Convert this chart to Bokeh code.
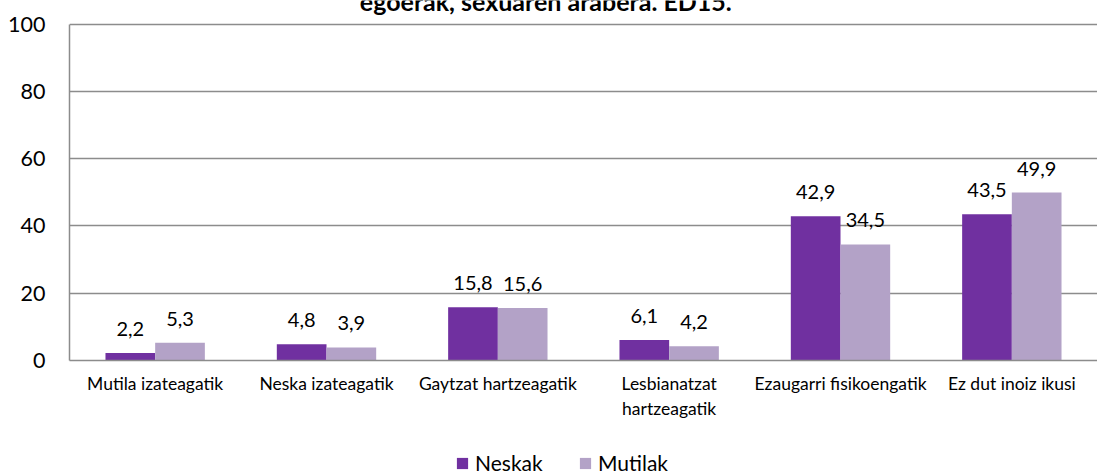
from bokeh.plotting import figure
from bokeh.layouts import column
from bokeh.models import ColumnDataSource, FactorRange, Label, Legend, LegendItem, LabelSet
from bokeh.transform import dodge
from bokeh.core.properties import value
from bokeh.embed import file_html
from bokeh.resources import INLINE

categories = ["Mutila izateagatik", "Neska izateagatik", "Gaytzat hartzeagatik",
              "Lesbianatzat\nhartzeagatik", "Ezaugarri fisikoengatik", "Ez dut inoiz ikusi"]
neskak = [2.2, 4.8, 15.8, 6.1, 42.9, 43.5]
mutilak = [5.3, 3.9, 15.6, 4.2, 34.5, 49.9]
series_names = ["Neskak", "Mutilak"]
colors = ["#7030A0", "#B3A2C7"]
y_ticks = [0, 20, 40, 60, 80, 100]
title_text = "egoerak, sexuaren arabera. ED15."

FONT = "Lato"

src = ColumnDataSource(dict(
    cat=categories,
    neskak=neskak,
    mutilak=mutilak,
    neskak_lbl=[f"{v:.1f}".replace(".", ",") for v in neskak],
    mutilak_lbl=[f"{v:.1f}".replace(".", ",") for v in mutilak],
))

# frame reaches the top edge so the (cut-off) title can sit inside it
p = figure(x_range=FactorRange(*categories, range_padding=0), y_range=(0, 107),
           width=1097, height=440, output_backend="svg", toolbar_location=None,
           min_border_left=69, min_border_right=0, min_border_top=0, min_border_bottom=80)
p.outline_line_color = None
p.background_fill_color = "white"

bw = 0.29
r1 = p.vbar(x=dodge("cat", -bw / 2, range=p.x_range), top="neskak", width=bw, source=src,
            fill_color=colors[0], line_color=None)
r2 = p.vbar(x=dodge("cat", bw / 2, range=p.x_range), top="mutilak", width=bw, source=src,
            fill_color=colors[1], line_color=None)

for col, off in (("neskak", -bw / 2), ("mutilak", bw / 2)):
    p.add_layout(LabelSet(x=dodge("cat", off, range=p.x_range), y=col, text=col + "_lbl", source=src,
                          text_align="center", text_baseline="middle", y_offset=24,
                          text_font=value(FONT), text_font_size="20px", text_color="#000000"))

p.yaxis.ticker = y_ticks
p.yaxis.bounds = (y_ticks[0], y_ticks[-1])
p.yaxis.major_tick_line_color = None
p.yaxis.minor_tick_line_color = None
p.yaxis.major_label_standoff = 18
p.yaxis.major_label_text_font = FONT
p.yaxis.major_label_text_font_size = "21.5px"
p.yaxis.major_label_text_color = "#000000"
p.yaxis.axis_line_color = "#8C8C8C"
p.yaxis.axis_line_width = 1.5

p.xaxis.major_tick_line_color = None
p.xaxis.minor_tick_line_color = None
p.xaxis.major_label_standoff = 6
p.xaxis.major_label_text_font = FONT
p.xaxis.major_label_text_font_size = "17.5px"
p.xaxis.major_label_text_color = "#000000"
p.xaxis.axis_line_color = "#8C8C8C"
p.xaxis.axis_line_width = 1.5

p.xgrid.grid_line_color = None
p.ygrid.grid_line_color = "#8C8C8C"
p.ygrid.grid_line_width = 1.5

p.add_layout(Label(x=2.78, y=100, y_offset=23.5, text=title_text, text_align="center",
                   text_baseline="alphabetic", text_font=FONT, text_font_style="bold",
                   text_font_size="25px", text_color="#000000"))

# separate strip for the legend below the chart; its bars fall outside its y range
pl = figure(width=1097, height=35, output_backend="svg", toolbar_location=None,
            x_axis_location=None, y_axis_location=None, x_range=p.x_range, y_range=(200, 201),
            min_border=0)
pl.outline_line_color = None
pl.xgrid.visible = False
pl.ygrid.visible = False
l1 = pl.vbar(x=dodge("cat", -bw / 2, range=p.x_range), top="neskak", width=bw, source=src,
             fill_color=colors[0], line_color=None)
l2 = pl.vbar(x=dodge("cat", bw / 2, range=p.x_range), top="mutilak", width=bw, source=src,
             fill_color=colors[1], line_color=None)
legend = Legend(items=[LegendItem(label=series_names[0], renderers=[l1]),
                       LegendItem(label=series_names[1], renderers=[l2])],
                location=(386, 0), orientation="horizontal",
                label_text_font=FONT, label_text_font_size="21px", label_text_color="#000000",
                glyph_width=14, glyph_height=14, label_standoff=6, spacing=3, label_width=100,
                padding=0, margin=0, border_line_color=None, background_fill_alpha=0)
pl.add_layout(legend, "center")

open("out.html", "w").write(file_html(column(p, pl, spacing=0), INLINE))
